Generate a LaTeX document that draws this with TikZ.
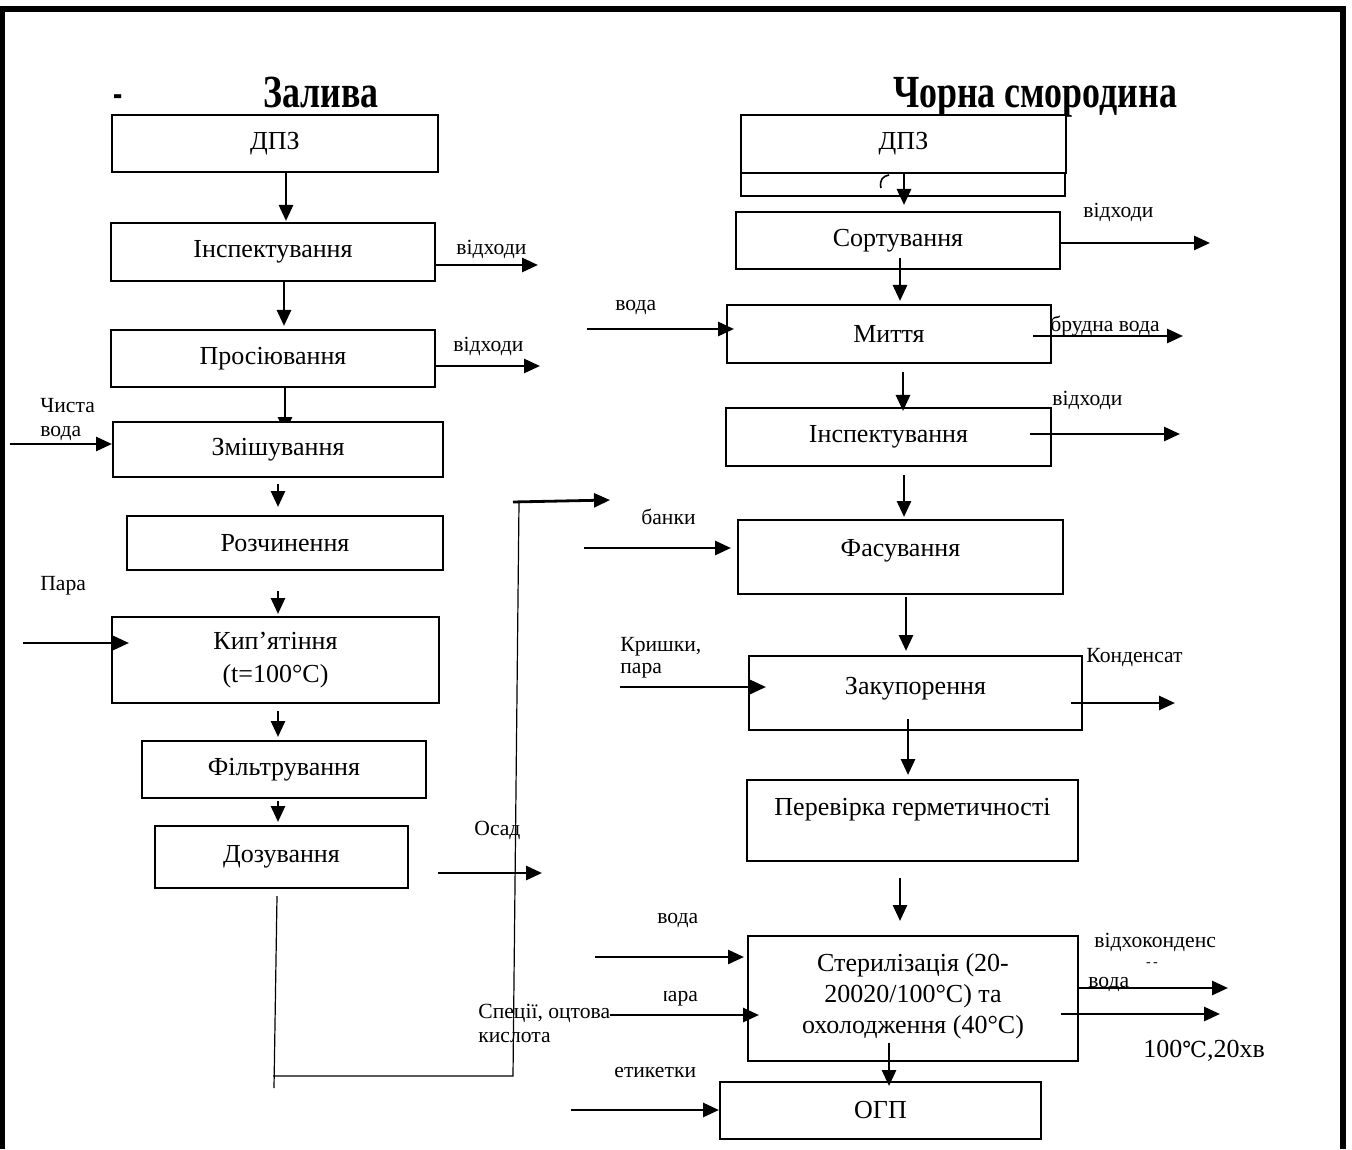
\documentclass[tikz,border=0pt]{standalone}
\usepackage{graphicx}
\usepackage{fontspec}
\setmainfont{Liberation Serif}
\newfontfamily\dvs{DejaVu Serif}
\usetikzlibrary{arrows.meta}
\begin{document}
\begin{tikzpicture}[x=0.5pt,y=-0.5pt,
 box/.style={draw, line width=1pt, rectangle, inner sep=0pt, font=\fontsize{13}{16.5}\selectfont, align=center},
 arr/.style={line width=1.4pt, -{Triangle[length=8pt,width=7pt]}},
 thinl/.style={line width=0.6pt},
 lab/.style={anchor=base west, inner sep=0pt, font=\fontsize{10.8}{13}\selectfont},
 ttl/.style={anchor=base, inner sep=0pt, font=\fontsize{23}{26}\selectfont\bfseries}]
\useasboundingbox (0,0) rectangle (1352,1149);
% frame
\draw[line width=3pt] (0,9) -- (1346,9);
\draw[line width=2.5pt] (2.5,7.5) -- (2.5,1149);
\draw[line width=3pt] (1343,7.5) -- (1343,1149);
% titles
\node[ttl] (t0) at (118,108) {\scalebox{0.6}[1]{-}};
\node[ttl] (t1) at (321,108) {\scalebox{0.78}[1]{Залива}};
\node[ttl] (t2) at (1035,108) {\scalebox{0.78}[1]{Чорна смородина}};
% left column
\node[box, minimum width=163pt, minimum height=28.5pt] (lDPZ) at (275,143.5) {ДПЗ};
\node[box, minimum width=162pt, minimum height=29pt] (lInsp) at (273,252) {Інспектування};
\node[box, minimum width=162pt, minimum height=28.5pt] (lPros) at (273,358.5) {Просіювання};
\coordinate (zt) at (285,433);
\draw[arr] ([xshift=6pt]lPros.south) -- (zt);
\node[box, fill=white, minimum width=165pt, minimum height=27.5pt] (lZmish) at (278,449.5) {Змішування};
\node[box, minimum width=158pt, minimum height=27pt] (lRozch) at (285,543) {Розчинення};
\node[box, minimum width=163.5pt, minimum height=43pt] (lKyp) at (275.5,660) {Кип’ятіння\\(t=100°C)};
\node[box, minimum width=142pt, minimum height=28.5pt] (lFilt) at (284,769.5) {Фільтрування};
\node[box, minimum width=126.5pt, minimum height=31pt] (lDoz) at (281.5,857) {Дозування};
% right column
\node[box, minimum width=162pt, minimum height=28pt] (rDPZb) at (903,168) {};
\node[box, fill=white, minimum width=162.5pt, minimum height=29pt] (rDPZ) at (903.5,144) {ДПЗ};
\node[box, minimum width=162pt, minimum height=28.5pt] (rSort) at (898,240.5) {Сортування};
\node[box, minimum width=162pt, minimum height=29pt] (rMyt) at (889,334) {Миття};
\node[box, minimum width=162.5pt, minimum height=29pt] (rInsp) at (888.5,437) {Інспектування};
\node[box, minimum width=162.5pt, minimum height=37pt] (rFas) at (900.5,557) {\raisebox{0.5pt}[0pt][0pt]{Фасування}};
\node[box, minimum width=166.5pt, minimum height=37pt] (rZak) at (915.5,693) {\raisebox{-0.5pt}[0pt][0pt]{Закупорення}};
\node[box, minimum width=165.5pt, minimum height=40.5pt] (rPer) at (912.5,820.5) {\raisebox{2.5pt}[0pt][0pt]{Перевірка герметичності}};
\node[box, minimum width=165pt, minimum height=62.5pt] (rSter) at (913,998.5) {\raisebox{-2pt}[0pt][0pt]{\fontsize{13}{15.5}\selectfont\begin{tabular}{@{}c@{}}Стерилізація (20-\\20020/100°C) та\\охолодження (40°C)\end{tabular}}};
\node[box, minimum width=160.5pt, minimum height=28.5pt] (rOGP) at (880.5,1110.5) {ОГП};
% left vertical arrows
\draw[arr] ([xshift=5.5pt]lDPZ.south) -- ([xshift=6.5pt,yshift=0.5pt]lInsp.north);
\draw[arr] ([xshift=5.5pt]lInsp.south) -- ([xshift=5.5pt,yshift=1.5pt]lPros.north);
\draw[arr] ([yshift=-3pt]lZmish.south) -- ([xshift=-3.5pt,yshift=4pt]lRozch.north);
\draw[arr] ([xshift=-3.5pt,yshift=-10pt]lRozch.south) -- ([xshift=1.25pt,yshift=1pt]lKyp.north);
\draw[arr] ([xshift=1.25pt,yshift=-3.5pt]lKyp.south) -- ([xshift=-3pt,yshift=1.5pt]lFilt.north);
\draw[arr] ([xshift=-3pt,yshift=-1pt]lFilt.south) -- ([xshift=-1.75pt,yshift=1.5pt]lDoz.north);
% left side arrows
\coordinate (o1) at (538,265);
\coordinate (o2) at (540,366);
\coordinate (i1) at (10,444);
\coordinate (i2) at (23,643);
\coordinate (o3) at (542,873);
\draw[arr] ([yshift=-6.5pt]lInsp.east) -- (o1);
\draw[arr] ([yshift=-3.75pt]lPros.east) -- (o2);
\draw[arr] (i1) -- ([yshift=2.75pt]lZmish.west);
\draw[arr] (i2) -- ([xshift=9pt,yshift=8.5pt]lKyp.west);
\draw[arr] ([xshift=14.5pt,yshift=-8pt]lDoz.east) -- (o3);
% bypass line
\coordinate (b1) at (274,1088);
\coordinate (b2) at (273,1076);
\coordinate (b3) at (513,1076);
\coordinate (b4) at (519,502);
\coordinate (b5) at (513,502);
\coordinate (b6) at (610,500);
\draw[thinl] ([xshift=-2.25pt,yshift=-3.5pt]lDoz.south) -- (b1);
\draw[thinl] (b2) -- (b3) -- (b4);
\draw[arr] (b5) -- (b6);
% right vertical arrows
\draw[arr] ([xshift=0.25pt]rDPZ.south) -- ([xshift=3pt,yshift=3pt]rSort.north);
\draw[arr] ([xshift=1pt,yshift=6pt]rSort.south) -- ([xshift=5.5pt,yshift=1.5pt]rMyt.north);
\draw[arr] ([xshift=7pt,yshift=-4pt]rMyt.south) -- ([xshift=7.25pt,yshift=-2pt]rInsp.north);
\draw[arr] ([xshift=7.75pt,yshift=-4pt]rInsp.south) -- ([xshift=1.75pt,yshift=1pt]rFas.north);
\draw[arr] ([xshift=2.75pt,yshift=-1pt]rFas.south) -- ([xshift=-4.75pt,yshift=2pt]rZak.north);
\draw[arr] ([xshift=-3.75pt,yshift=6pt]rZak.south) -- ([xshift=-2.25pt,yshift=2pt]rPer.north);
\draw[arr] ([xshift=-6.25pt,yshift=-8pt]rPer.south) -- ([xshift=-6.5pt,yshift=7pt]rSter.north);
\draw[arr] ([xshift=-12pt,yshift=9.5pt]rSter.south) -- ([xshift=4.25pt,yshift=-2.5pt]rOGP.north);
% right side arrows
\coordinate (o4) at (1210,243);
\coordinate (i3) at (587,329);
\coordinate (o5) at (1183,336);
\coordinate (o6) at (1180,434);
\coordinate (i4) at (584,548);
\coordinate (i5) at (620,687);
\coordinate (o7) at (1175,703);
\coordinate (i6) at (595,957);
\coordinate (i7) at (610,1015);
\coordinate (o8) at (1228,988);
\coordinate (o9) at (1220,1014);
\coordinate (i8) at (571,1110);
\draw[arr] ([yshift=-1.25pt]rSort.east) -- (o4);
\draw[arr] (i3) -- ([xshift=4pt,yshift=2.5pt]rMyt.west);
\draw[arr] ([xshift=-9.5pt,yshift=-1pt]rMyt.east) -- (o5);
\draw[arr] ([xshift=-11pt,yshift=1.5pt]rInsp.east) -- (o6);
\draw[arr] (i4) -- ([xshift=-3pt,yshift=4.5pt]rFas.west);
\draw[arr] (i5) -- ([xshift=9pt,yshift=3pt]rZak.west);
\draw[arr] ([xshift=-6pt,yshift=-5pt]rZak.east) -- (o7);
\draw[arr] (i6) -- ([xshift=-1.5pt,yshift=20.75pt]rSter.west);
\draw[arr] (i7) -- ([xshift=6pt,yshift=-8.25pt]rSter.west);
\draw[arr] ([yshift=5.25pt]rSter.east) -- (o8);
\draw[arr] ([xshift=-9pt,yshift=-7.75pt]rSter.east) -- (o9);
\draw[arr] (i8) -- ([yshift=0.25pt]rOGP.west);
% small stray marks
\draw[line width=0.8pt] (881,188) .. controls (879,180) and (883,176) .. (889,175);
\node[inner sep=0pt, font=\fontsize{7}{7}\selectfont] (dd) at (1152,965) {-\,-};
% labels
\node[lab] (a1) at (456,255) {відходи};
\node[lab] (a2) at (453,352) {відходи};
\node[lab] (a3) at (40,413) {Чиста};
\node[lab] (a4) at (40,437) {вода};
\node[lab] (a5) at (40,590) {Пара};
\node[lab] (a6) at (474,835) {Осад};
\node[lab] (a7) at (615,311) {вода};
\node[lab] (a8) at (1083,218) {відходи};
\node[lab] (a9) at (1050,332) {брудна вода};
\node[lab] (a10) at (1052,406) {відходи};
\node[lab] (a11) at (641,524) {банки};
\node[lab] (a12) at (620,651) {Кришки,};
\node[lab] (a13) at (620,673) {пара};
\node[lab] (a14) at (1086,662) {Конденсат};
\node[lab] (a15) at (657,923) {вода};
\begin{scope}
\clip (664,980) rectangle (700,1010);
\node[lab] (a16) at (656,1001) {пара};
\end{scope}
\node[lab] (a17) at (478,1018) {Спеції, оцтова};
\node[lab] (a18) at (478,1042) {кислота};
\node[lab] (a19) at (1094,947) {відхоконденс};
\node[lab] (a20) at (1088,987) {вода};
\node[lab, font=\fontsize{13}{15}\selectfont] (a21) at (1143,1057) {100{\dvs\fontsize{11}{13}\selectfont ℃},20хв};
\node[lab] (a22) at (614,1077) {етикетки};
\end{tikzpicture}
\end{document}
